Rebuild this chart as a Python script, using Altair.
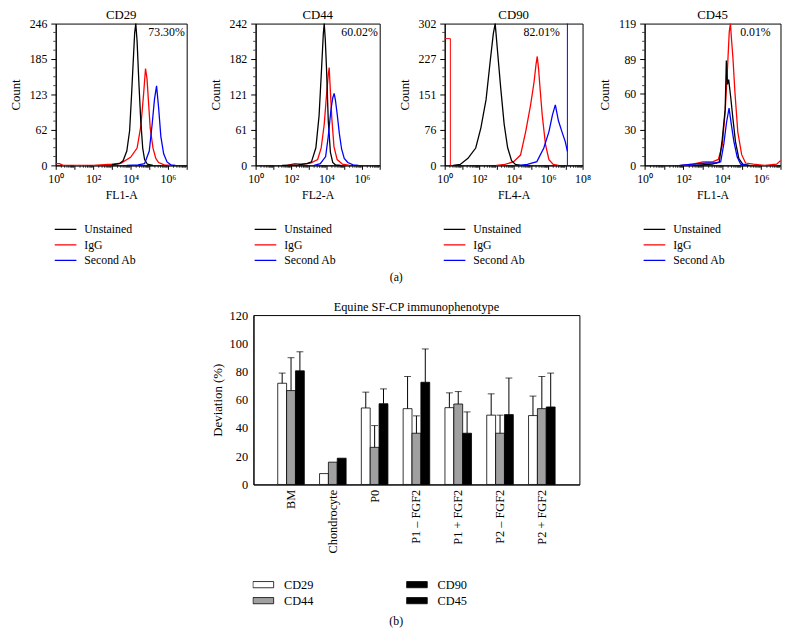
import altair as alt
import numpy as np
import pandas as pd

FONT = "Liberation Serif"
SERIES = ["Unstained", "IgG", "Second Ab"]
SERIES_COLORS = ["#000000", "#ff0000", "#0000ff"]
DRAW_ORDER = ["IgG", "Unstained", "Second Ab"]

# ---------------- (a) flow cytometry histograms (x = log10 fluorescence, y = count)
cd29_unstained_x = [3.0, 3.4, 3.6, 3.8, 3.95, 4.05, 4.15, 4.22, 4.28, 4.35, 4.45, 4.55, 4.65, 4.75, 4.9, 5.2]
cd29_unstained_y = [1, 3, 8, 25, 60, 120, 185, 230, 246, 215, 140, 75, 30, 10, 2, 0]
cd29_igg_x = [0, 0.2, 0.4, 2.0, 3.0, 3.5, 4.0, 4.35, 4.55, 4.7, 4.8, 4.88, 4.95, 5.05, 5.2, 5.35, 5.5, 5.8, 6.2]
cd29_igg_y = [3, 3, 0, 0, 2, 4, 14, 30, 68, 125, 168, 150, 115, 65, 30, 12, 5, 1, 0]
cd29_second_x = [3.8, 4.4, 4.75, 5.0, 5.15, 5.28, 5.39, 5.5, 5.62, 5.77, 5.95, 6.15, 6.4]
cd29_second_y = [0, 1, 3, 25, 70, 115, 138, 100, 50, 20, 6, 1, 0]

cd44_unstained_x = [1.5, 2.4, 2.9, 3.15, 3.4, 3.58, 3.72, 3.82, 3.87, 3.93, 4.0, 4.1, 4.22, 4.35, 4.5, 4.8]
cd44_unstained_y = [0, 1, 3, 6, 30, 85, 165, 225, 242, 215, 165, 75, 22, 5, 1, 0]
cd44_igg_x = [1.8, 2.2, 2.6, 3.1, 3.5, 3.7, 3.87, 4.0, 4.1, 4.15, 4.22, 4.3, 4.42, 4.6, 4.9, 5.3]
cd44_igg_y = [0, 3, 2, 4, 10, 30, 70, 120, 155, 167, 125, 80, 32, 10, 2, 0]
cd44_second_x = [3.3, 3.65, 3.95, 4.1, 4.25, 4.35, 4.43, 4.5, 4.6, 4.72, 4.85, 5.0, 5.2, 5.5, 5.8]
cd44_second_y = [0, 3, 15, 50, 95, 115, 123, 112, 88, 55, 28, 12, 5, 1, 0]

cd90_unstained_x = [0.5, 0.9, 1.35, 1.8, 2.1, 2.4, 2.65, 2.82, 2.93, 3.05, 3.25, 3.45, 3.65, 3.88, 4.1, 4.4]
cd90_unstained_y = [0, 2, 15, 37, 80, 140, 225, 280, 302, 250, 165, 88, 38, 10, 2, 0]
cd90_igg_x = [3.0, 3.5, 4.0, 4.4, 4.7, 4.98, 5.18, 5.3, 5.37, 5.45, 5.52, 5.66, 5.85, 6.05, 6.3, 6.6]
cd90_igg_y = [0, 2, 8, 22, 72, 128, 176, 215, 232, 205, 170, 107, 44, 12, 2, 0]
cd90_second_x = [4.3, 4.8, 5.35, 5.75, 6.05, 6.25, 6.42, 6.6, 6.8, 7.0, 7.12]
cd90_second_y = [0, 2, 8, 37, 72, 107, 129, 95, 72, 50, 30]
cd90_red_gate_x = [0, 0.33, 0.33]
cd90_red_gate_y = [270, 270, 0]
cd90_blue_gate_x = 7.12

cd45_unstained_x = [2.5, 3.5, 3.85, 4.0, 4.15, 4.21, 4.27, 4.33, 4.43, 4.55, 4.68, 4.85, 5.05, 5.4]
cd45_unstained_y = [0, 1, 3, 22, 47, 88, 68, 72, 58, 39, 20, 6, 1, 0]
cd45_igg_x = [1.9, 2.5, 3.0, 3.5, 3.8, 4.0, 4.15, 4.28, 4.36, 4.42, 4.48, 4.55, 4.65, 4.8, 5.0, 5.2, 5.6, 6.2, 6.8, 7.0]
cd45_igg_y = [0, 1, 3, 3, 5, 17, 45, 85, 112, 119, 105, 90, 62, 28, 9, 2, 1, 0, 1, 4]
cd45_second_x = [1.8, 2.5, 3.2, 3.7, 3.92, 4.08, 4.22, 4.35, 4.47, 4.6, 4.77, 4.95, 5.3]
cd45_second_y = [0, 1, 2, 2, 3, 18, 36, 48, 34, 20, 7, 1, 0]

panel_names = ["CD29", "CD44", "CD90", "CD45"]
panel_xlabels = ["FL1-A", "FL2-A", "FL4-A", "FL1-A"]
panel_percents = ["73.30%", "60.02%", "82.01%", "0.01%"]
panel_yticks = [[0, 62, 123, 185, 246], [0, 61, 121, 182, 242], [0, 76, 151, 227, 302], [0, 30, 60, 89, 119]]
panel_xmax = [7, 7, 8, 7]

# ---------------- (b) bar chart
bar_title = "Equine SF-CP immunophenotype"
categories = ["BM", "Chondrocyte", "P0", "P1 \u2013 FGF2", "P1 + FGF2", "P2 \u2013 FGF2", "P2 + FGF2"]
markers = ["CD29", "CD44", "CD90"]
legend_markers = ["CD29", "CD44", "CD90", "CD45"]
cd29_values = [71.7, 7.7, 54.2, 53.7, 54.4, 49.1, 48.8]
cd44_values = [66.5, 15.8, 26.3, 36.3, 57.0, 36.3, 53.7]
cd90_values = [80.5, 18.6, 57.2, 72.4, 36.3, 49.5, 54.9]
cd29_errors = [7.2, 0, 11.2, 22.8, 10.5, 15.1, 13.8]
cd44_errors = [23.3, 0, 15.4, 12.3, 8.8, 12.8, 22.8]
cd90_errors = [13.5, 0, 10.5, 23.6, 15.1, 25.9, 24.0]
bar_yticks = [0, 20, 40, 60, 80, 100, 120]

SUP = "['\u2070','\u00b9','\u00b2','\u00b3','\u2074','\u2075','\u2076','\u2077','\u2078']"

curves = {
    "CD29": {"Unstained": (cd29_unstained_x, cd29_unstained_y), "IgG": (cd29_igg_x, cd29_igg_y), "Second Ab": (cd29_second_x, cd29_second_y)},
    "CD44": {"Unstained": (cd44_unstained_x, cd44_unstained_y), "IgG": (cd44_igg_x, cd44_igg_y), "Second Ab": (cd44_second_x, cd44_second_y)},
    "CD90": {"Unstained": (cd90_unstained_x, cd90_unstained_y), "IgG": (cd90_igg_x, cd90_igg_y), "Second Ab": (cd90_second_x, cd90_second_y)},
    "CD45": {"Unstained": (cd45_unstained_x, cd45_unstained_y), "IgG": (cd45_igg_x, cd45_igg_y), "Second Ab": (cd45_second_x, cd45_second_y)},
}

# layout (not data)
PANEL_W = [133, 126, 140, 138]
PANEL_H = 144
PCT_X = [131, 124, 117, 128]
PAD = {"left": 0, "top": -5, "right": 0, "bottom": 0}


def make_panel(i):
    name = panel_names[i]
    w, h = PANEL_W[i], PANEL_H
    xmax = panel_xmax[i]
    yt = panel_yticks[i]
    xs = alt.Scale(domain=[0, xmax], nice=False, zero=False)
    ys = alt.Scale(domain=[0, yt[-1]], nice=False)
    x_axis = alt.Axis(values=list(range(xmax + 1)),
                      labelExpr="datum.value % 2 == 0 ? '10' + " + SUP + "[datum.value] : ''",
                      title=panel_xlabels[i], tickSize=4, labelPadding=4, titlePadding=6,
                      grid=False, labelFontSize=12, titleFontSize=12, titleFontWeight="normal",
                      labelFlush=False, labelOverlap=False)
    y_axis = alt.Axis(values=yt, title="Count", tickSize=5, labelPadding=4, minExtent=29, maxExtent=29,
                      titlePadding=5, grid=False, labelFontSize=12, titleFontSize=13,
                      titleFontWeight="normal", labelFlush=False, labelOverlap=False)
    color = alt.Color("series:N", scale=alt.Scale(domain=SERIES, range=SERIES_COLORS),
                      legend=alt.Legend(orient="none", legendX=-2, legendY=203, title=None,
                                        symbolType="stroke", symbolSize=484, symbolStrokeWidth=1.2,
                                        clipHeight=12, rowPadding=3.7, labelFontSize=12,
                                        labelOffset=7, padding=0))
    layers = []
    for s in DRAW_ORDER:
        cx, cy = curves[name][s]
        df = pd.DataFrame({"d": cx, "count": cy, "series": s, "i": list(range(len(cx)))})
        layers.append(alt.Chart(df).mark_line(strokeWidth=1.3).encode(
            x=alt.X("d:Q", scale=xs, axis=x_axis),
            y=alt.Y("count:Q", scale=ys, axis=y_axis),
            color=color, order="i:Q"))
    if name == "CD90":
        gdf = pd.DataFrame({"d": cd90_red_gate_x, "count": cd90_red_gate_y, "i": [0, 1, 2]})
        layers.append(alt.Chart(gdf).mark_line(color="#ff0000", strokeWidth=1).encode(
            x=alt.X("d:Q", scale=xs, axis=x_axis), y=alt.Y("count:Q", scale=ys, axis=y_axis), order="i:Q"))
        bdf = pd.DataFrame({"d": [cd90_blue_gate_x], "lo": [0], "hi": [yt[-1]]})
        layers.append(alt.Chart(bdf).mark_rule(color="#0000ff", strokeWidth=1).encode(
            x=alt.X("d:Q", scale=xs, axis=x_axis), y=alt.Y("lo:Q", scale=ys, axis=y_axis), y2="hi:Q"))
    # minor ticks (axis decoration)
    minor_x = [n + np.log10(k) for n in range(xmax) for k in range(2, 10)]
    mx = pd.DataFrame({"d": minor_x})
    layers.append(alt.Chart(mx).mark_rule(color="black", strokeWidth=0.7).encode(
        x=alt.X("d:Q", scale=xs, axis=x_axis), y=alt.value(h), y2=alt.value(h + 2.5)))
    minor_y = [yt[-1] * k / 16 for k in range(1, 16) if k % 4 != 0]
    my = pd.DataFrame({"count": minor_y})
    layers.append(alt.Chart(my).mark_rule(color="black", strokeWidth=0.7).encode(
        y=alt.Y("count:Q", scale=ys, axis=y_axis), x=alt.value(0), x2=alt.value(-2.5)))
    tdf = pd.DataFrame({"t": [panel_percents[i]]})
    layers.append(alt.Chart(tdf).mark_text(align="right", baseline="middle", fontSize=12, font=FONT).encode(
        text="t:N", x=alt.value(PCT_X[i]), y=alt.value(9)))
    ndf = pd.DataFrame({"t": [name]})
    layers.append(alt.Chart(ndf).mark_text(align="center", baseline="middle", fontSize=13, font=FONT).encode(
        text="t:N", x=alt.value(w / 2), y=alt.value(-9)))
    return alt.layer(*layers).properties(width=w, height=h)


p1, p2, p3, p4 = [make_panel(i) for i in range(4)]

row12 = alt.hconcat(p1, p2, spacing=21).resolve_scale(color="independent").resolve_legend(color="independent")
row123 = alt.hconcat(row12, p3, spacing=17).resolve_scale(color="independent").resolve_legend(color="independent")
top = alt.hconcat(row123, p4, spacing=6).resolve_scale(color="independent").resolve_legend(color="independent")
top = top.properties(title=alt.TitleParams("(a)", orient="bottom", anchor="middle", fontSize=12,
                                           fontWeight="normal", font=FONT, offset=5))

# bar chart
rows = []
vals = {"CD29": cd29_values, "CD44": cd44_values, "CD90": cd90_values}
errs = {"CD29": cd29_errors, "CD44": cd44_errors, "CD90": cd90_errors}
for m in markers:
    for c, v, e in zip(categories, vals[m], errs[m]):
        rows.append({"cat": c, "marker": m, "value": v, "err": e, "top": v + e})
bdf = pd.DataFrame(rows)

BW, BH = 331, 172
bx = alt.X("cat:N", sort=categories, scale=alt.Scale(paddingInner=0.364, paddingOuter=0.581),
           axis=alt.Axis(title=None, labelAngle=270, ticks=False, labelPadding=5, labelFontSize=12.5))
bxo = alt.XOffset("marker:N", sort=markers, scale=alt.Scale(paddingInner=0, paddingOuter=0))
by_axis = alt.Axis(values=bar_yticks, title="Deviation (%)", tickSize=0, labelPadding=6, grid=False,
                   labelFontSize=12.5, titleFontSize=13, titleFontWeight="normal", titlePadding=5)
bys = alt.Scale(domain=[0, 120], nice=False)

bars = alt.Chart(bdf).mark_bar(stroke="black", strokeWidth=0.8).encode(
    x=bx, xOffset=bxo,
    y=alt.Y("value:Q", scale=bys, axis=by_axis),
    fill=alt.Fill("marker:N", scale=alt.Scale(domain=legend_markers, range=["#ffffff", "#a0a0a0", "#000000", "#000000"]),
                  legend=alt.Legend(orient="none", legendX=-1, legendY=268.5, title=None, columns=2,
                                    symbolType="M-1,-0.3H1V0.3H-1Z", symbolSize=441, clipHeight=10,
                                    rowPadding=3.5, columnPadding=94, labelOffset=10, labelFontSize=12.5,
                                    symbolStrokeColor="black", symbolStrokeWidth=0.8, padding=0)))
edf = bdf[bdf["err"] > 0]
whisk = alt.Chart(edf).mark_rule(color="black", strokeWidth=1).encode(
    x=bx, xOffset=bxo, y=alt.Y("value:Q", scale=bys, axis=by_axis), y2="top:Q")
caps = alt.Chart(edf).mark_tick(color="black", size=7, thickness=1).encode(
    x=bx, xOffset=bxo, y=alt.Y("top:Q", scale=bys, axis=by_axis))
btitle = alt.Chart(pd.DataFrame({"t": [bar_title]})).mark_text(
    align="center", baseline="middle", fontSize=12.5, font=FONT).encode(
    text="t:N", x=alt.value(BW / 2), y=alt.value(-8))
# invisible spacer on the right, only to balance the centred layout
spacer = alt.Chart(pd.DataFrame({"t": [""]})).mark_rule(opacity=0).encode(
    x=alt.value(BW), x2=alt.value(BW + 6), y=alt.value(0))

bottom = alt.layer(bars, whisk, caps, btitle, spacer).properties(width=BW, height=BH)

chart = alt.vconcat(top, bottom, spacing=17, center=True).resolve_scale(
    color="independent", fill="independent").resolve_legend(
    color="independent", fill="independent").properties(
    title=alt.TitleParams("(b)", orient="bottom", anchor="middle", fontSize=12, fontWeight="normal",
                          font=FONT, offset=9),
    padding=PAD,
).configure(font=FONT, padding=PAD).configure_view(stroke="black", strokeWidth=1).configure_axis(
    labelFont=FONT, titleFont=FONT, domainColor="black", tickColor="black", labelColor="black",
    titleColor="black").configure_legend(labelFont=FONT, labelColor="black").configure_title(color="black")

chart.save("out.html", embed_options={"renderer": "svg", "actions": False})
